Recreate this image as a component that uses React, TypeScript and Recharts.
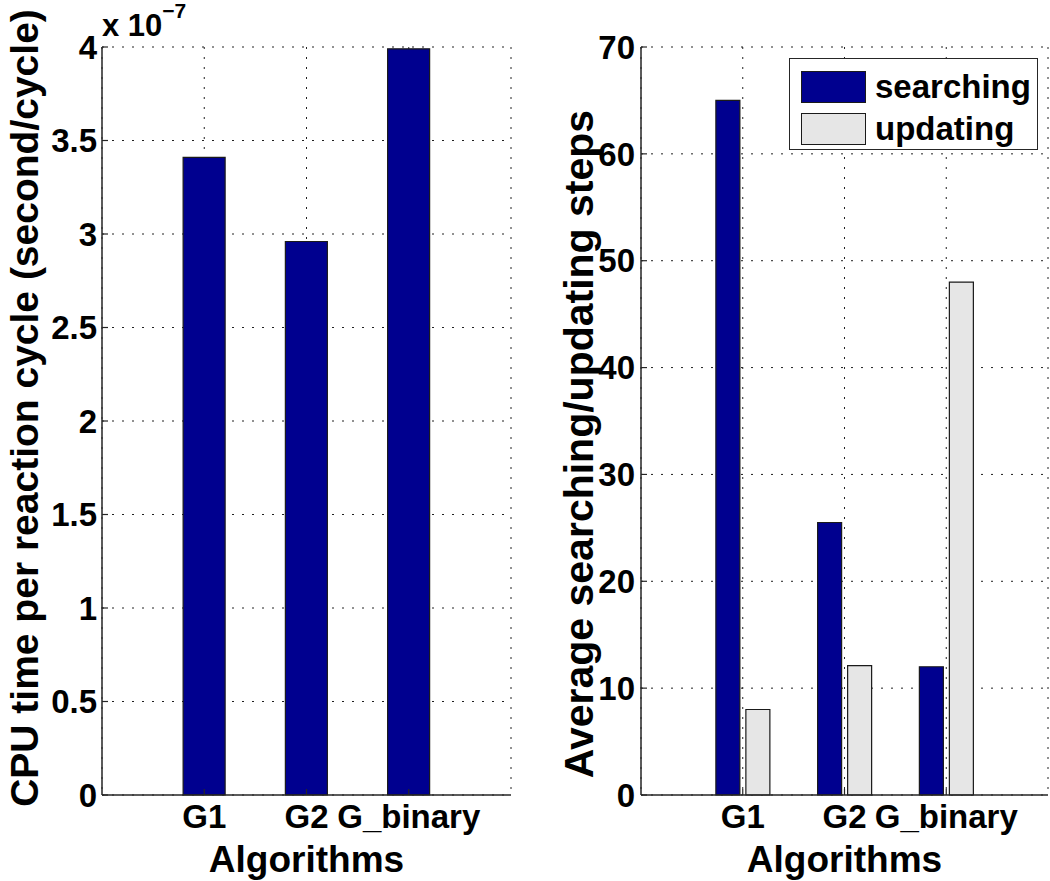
import React from 'react';
import { BarChart, Bar, XAxis, YAxis, CartesianGrid, Legend } from 'recharts';

// algorithms on the x axis (placed at 1, 2, 3 on a 0..4 axis, MATLAB style)
const categories = ['G1', 'G2', 'G_binary'];
const categoryPositions = [1, 2, 3];

// CPU time per reaction cycle, in units of 1e-7 s/cycle
const cpuTime = [3.41, 2.96, 3.99];

// average searching / updating steps
const searchingSteps = [65, 25.5, 12];
const updatingSteps = [8, 12.1, 48];

const cpuTicks = [0, 0.5, 1, 1.5, 2, 2.5, 3, 3.5, 4];
const stepTicks = [0, 10, 20, 30, 40, 50, 60, 70];

const cpuData = categories.map((name, i) => ({
  pos: categoryPositions[i],
  name,
  cpu: cpuTime[i]
}));

const stepData = categories.map((name, i) => ({
  pos: categoryPositions[i],
  name,
  searching: searchingSteps[i],
  updating: updatingSteps[i]
}));

const FONT = '"Liberation Sans", Arial, Helvetica, sans-serif';
const FRAME = '#262626';
const BLUE = '#00008f';
const GRAY = '#e6e6e6';

const tickStyle = { fontSize: 33, fontWeight: 'bold', fill: '#000', fontFamily: FONT };
const catLabel = (v: number) => categories[categoryPositions.indexOf(v)] ?? '';

const AxisTitle = ({ viewBox, text }: any) => {
  const cx = viewBox.x + viewBox.width / 2;
  return (
    <text x={cx} y={872} textAnchor="middle" fontSize={37} fontWeight="bold" fontFamily={FONT} fill="#000">
      {text}
    </text>
  );
};

const YTitle = ({ x, y, text, size }: any) => (
  <text
    x={x}
    y={y}
    transform={`rotate(-90, ${x}, ${y})`}
    textAnchor="middle"
    fontSize={size}
    fontWeight="bold"
    fontFamily={FONT}
    fill="#000"
  >
    {text}
  </text>
);

const LeftYLabel = ({ viewBox }: any) => {
  const axisX = viewBox.x + viewBox.width;
  return (
    <g>
      <YTitle x={axisX - 64} y={408} size={39} text="CPU time per reaction cycle (second/cycle)" />
      <text x={axisX} y={36} fontSize={31} fontWeight="bold" fontFamily={FONT} fill="#000">
        x 10
        <tspan dy={-18} fontSize={21}>−7</tspan>
      </text>
    </g>
  );
};

const RightYLabel = ({ viewBox }: any) => {
  const axisX = viewBox.x + viewBox.width;
  return <YTitle x={axisX - 48} y={444} size={41} text="Average searching/updating steps" />;
};

const BoxLegend = ({ payload }: any) => (
  <div
    style={{
      width: 249,
      height: 92,
      boxSizing: 'border-box',
      border: `1.5px solid ${FRAME}`,
      background: '#fff',
      paddingTop: 7,
      paddingLeft: 11
    }}
  >
    {(payload || []).map((entry: any) => (
      <div key={entry.value} style={{ display: 'flex', alignItems: 'center', height: 42 }}>
        <div
          style={{
            width: 65,
            height: 32,
            boxSizing: 'border-box',
            background: entry.color,
            border: '1.2px solid #1a1a1a',
            marginRight: 9
          }}
        />
        <span style={{ fontFamily: FONT, fontWeight: 'bold', fontSize: 33, color: '#000', lineHeight: '32px' }}>
          {entry.value}
        </span>
      </div>
    ))}
  </div>
);

const xAxisCommon = {
  type: 'number' as const,
  dataKey: 'pos',
  domain: [0, 4],
  ticks: categoryPositions,
  interval: 0 as const,
  axisLine: { stroke: FRAME, strokeWidth: 1.5 },
  tickLine: { stroke: FRAME, strokeWidth: 1.2 }
};

const App: React.FC = () => {
  return (
    <div style={{ position: 'absolute', left: 0, top: 0, width: 1050, height: 881, background: '#fff' }}>
      <div style={{ position: 'absolute', left: 0, top: 0 }}>
        <BarChart width={520} height={881} data={cpuData} margin={{ top: 47, right: 9, bottom: 0, left: 40 }}>
          <CartesianGrid stroke="#222" strokeDasharray="2 8" strokeWidth={1} />
          <XAxis
            {...xAxisCommon}
            height={86}
            tickSize={-6}
            tickMargin={16}
            tick={tickStyle}
            tickFormatter={catLabel}
            label={<AxisTitle text="Algorithms" />}
          />
          <XAxis {...xAxisCommon} xAxisId="top" orientation="top" height={0} tickSize={-6} tick={false} />
          <YAxis
            type="number"
            domain={[0, 4]}
            ticks={cpuTicks}
            interval={0}
            width={62}
            tickSize={-6}
            tickMargin={11}
            tick={tickStyle}
            axisLine={{ stroke: FRAME, strokeWidth: 1.5 }}
            tickLine={{ stroke: FRAME, strokeWidth: 1.2 }}
            label={<LeftYLabel />}
          />
          <YAxis
            yAxisId="right"
            orientation="right"
            type="number"
            domain={[0, 4]}
            ticks={cpuTicks}
            width={0}
            tickSize={-6}
            tick={false}
            axisLine={{ stroke: FRAME, strokeWidth: 1.5 }}
            tickLine={{ stroke: FRAME, strokeWidth: 1.2 }}
          />
          <Bar dataKey="cpu" fill={BLUE} stroke="#1a1a1a" strokeWidth={1.2} barSize={42} isAnimationActive={false} />
        </BarChart>
      </div>

      <div style={{ position: 'absolute', left: 530, top: 0 }}>
        <BarChart
          width={520}
          height={881}
          data={stepData}
          barGap={6}
          margin={{ top: 47, right: 2, bottom: 0, left: 49 }}
        >
          <CartesianGrid stroke="#222" strokeDasharray="2 8" strokeWidth={1} />
          <XAxis
            {...xAxisCommon}
            height={86}
            tickSize={-6}
            tickMargin={16}
            tick={tickStyle}
            tickFormatter={catLabel}
            label={<AxisTitle text="Algorithms" />}
          />
          <XAxis {...xAxisCommon} xAxisId="top" orientation="top" height={0} tickSize={-6} tick={false} />
          <YAxis
            type="number"
            domain={[0, 70]}
            ticks={stepTicks}
            interval={0}
            width={62}
            tickSize={-6}
            tickMargin={12}
            tick={tickStyle}
            axisLine={{ stroke: FRAME, strokeWidth: 1.5 }}
            tickLine={{ stroke: FRAME, strokeWidth: 1.2 }}
            label={<RightYLabel />}
          />
          <YAxis
            yAxisId="right"
            orientation="right"
            type="number"
            domain={[0, 70]}
            ticks={stepTicks}
            width={0}
            tickSize={-6}
            tick={false}
            axisLine={{ stroke: FRAME, strokeWidth: 1.5 }}
            tickLine={{ stroke: FRAME, strokeWidth: 1.2 }}
          />
          <Legend
            layout="horizontal"
            verticalAlign="middle"
            align="center"
            content={<BoxLegend />}
            wrapperStyle={{ top: 58, left: 259, width: 249, height: 92 }}
          />
          <Bar dataKey="searching" name="searching" fill={BLUE} stroke="#1a1a1a" strokeWidth={1.2} barSize={24} isAnimationActive={false} />
          <Bar dataKey="updating" name="updating" fill={GRAY} stroke="#1a1a1a" strokeWidth={1.2} barSize={24} isAnimationActive={false} />
        </BarChart>
      </div>
    </div>
  );
};

export default App;
